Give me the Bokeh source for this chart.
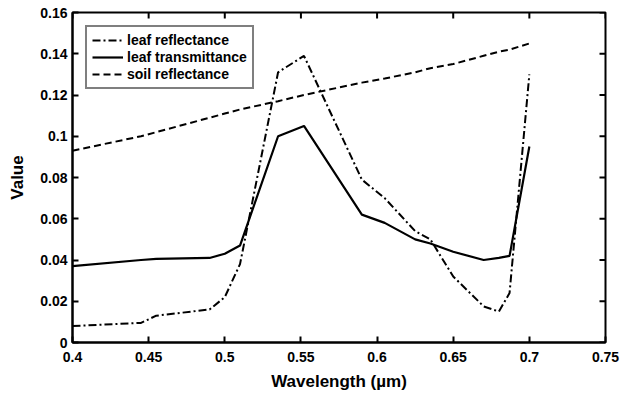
import math
from bokeh.plotting import figure
from bokeh.models import FixedTicker, Legend, LegendItem, Range1d
from bokeh.embed import file_html
from bokeh.resources import INLINE

wavelength = [0.4, 0.445, 0.455, 0.49, 0.5, 0.51, 0.535, 0.552, 0.59, 0.605,
              0.625, 0.635, 0.65, 0.67, 0.68, 0.687, 0.7]
leaf_reflectance = [0.008, 0.0095, 0.013, 0.016, 0.022, 0.038, 0.131, 0.139, 0.079, 0.070,
                    0.054, 0.050, 0.032, 0.0175, 0.015, 0.024, 0.130]
leaf_transmittance = [0.037, 0.040, 0.0405, 0.041, 0.043, 0.047, 0.100, 0.105, 0.062, 0.058,
                      0.050, 0.048, 0.044, 0.040, 0.041, 0.042, 0.095]
soil_reflectance = [0.093, 0.100, 0.102, 0.109, 0.111, 0.113, 0.117, 0.120, 0.126, 0.128,
                    0.131, 0.133, 0.135, 0.139, 0.141, 0.142, 0.145]

x_ticks = [0.4, 0.45, 0.5, 0.55, 0.6, 0.65, 0.7, 0.75]
x_tick_labels = ["0.4", "0.45", "0.5", "0.55", "0.6", "0.65", "0.7", "0.75"]
y_ticks = [0, 0.02, 0.04, 0.06, 0.08, 0.1, 0.12, 0.14, 0.16]
y_tick_labels = ["0", "0.02", "0.04", "0.06", "0.08", "0.1", "0.12", "0.14", "0.16"]

X_MIN, X_MAX = 0.4, 0.75
Y_MIN, Y_MAX = 0.0, 0.16

FONT = "Liberation Sans"
TICK_LEN = 6

p = figure(width=620, height=394, output_backend="svg", toolbar_location=None,
           x_range=Range1d(X_MIN, X_MAX), y_range=Range1d(Y_MIN, Y_MAX),
           min_border_left=72, min_border_right=15, min_border_top=12, min_border_bottom=52,
           x_axis_label="Wavelength (µm)", y_axis_label="Value")
p.grid.visible = False
p.outline_line_color = "black"
p.outline_line_width = 2
p.background_fill_color = "white"
p.border_fill_color = "white"

def style_axis(ax, ticks, labels):
    ax.ticker = FixedTicker(ticks=ticks)
    ax.major_label_overrides = {t: l for t, l in zip(ticks, labels)}
    ax.major_tick_in = TICK_LEN
    ax.major_tick_out = 0
    ax.minor_tick_in = 0
    ax.minor_tick_out = 0
    ax.axis_line_color = "black"
    ax.axis_line_width = 2
    ax.major_tick_line_width = 2
    ax.major_tick_line_color = "black"
    ax.major_label_text_font = FONT
    ax.major_label_text_font_style = "bold"
    ax.major_label_text_font_size = "14px"
    ax.major_label_text_color = "black"
    ax.axis_label_text_font = FONT
    ax.axis_label_text_font_style = "bold"
    ax.axis_label_text_font_size = "17px"
    ax.axis_label_text_color = "black"

style_axis(p.xaxis[0], x_ticks, x_tick_labels)
style_axis(p.yaxis[0], y_ticks, y_tick_labels)
p.xaxis[0].major_label_standoff = 9
p.xaxis[0].axis_label_standoff = 7
p.yaxis[0].major_label_standoff = 5
p.yaxis[0].axis_label_standoff = 10

# inward tick marks on the top and right frame edges (MATLAB box style)
p.ray(x=x_ticks, y=[Y_MAX] * len(x_ticks), length=TICK_LEN, length_units="screen",
      angle=-math.pi / 2, line_color="black", line_width=2)
p.ray(x=[X_MAX] * len(y_ticks), y=y_ticks, length=TICK_LEN, length_units="screen",
      angle=math.pi, line_color="black", line_width=2)

r1 = p.line(wavelength, leaf_reflectance, line_color="black", line_width=2, line_dash="8 3 2 3")
r2 = p.line(wavelength, leaf_transmittance, line_color="black", line_width=2.2)
r3 = p.line(wavelength, soil_reflectance, line_color="black", line_width=2, line_dash="7 4")

legend = Legend(items=[LegendItem(label="leaf reflectance", renderers=[r1]),
                       LegendItem(label="leaf transmittance", renderers=[r2]),
                       LegendItem(label="soil reflectance", renderers=[r3])],
                location="top_left")
legend.label_text_font = FONT
legend.label_text_font_style = "bold"
legend.label_text_font_size = "14px"
legend.label_text_color = "black"
legend.border_line_color = "black"
legend.border_line_width = 2
legend.glyph_width = 31
legend.glyph_height = 16
legend.label_height = 16
legend.label_standoff = 4
legend.spacing = 1
legend.padding = 5
legend.margin = 13
legend.background_fill_alpha = 1
p.add_layout(legend, "center")

open("out.html", "w").write(file_html(p, INLINE))
